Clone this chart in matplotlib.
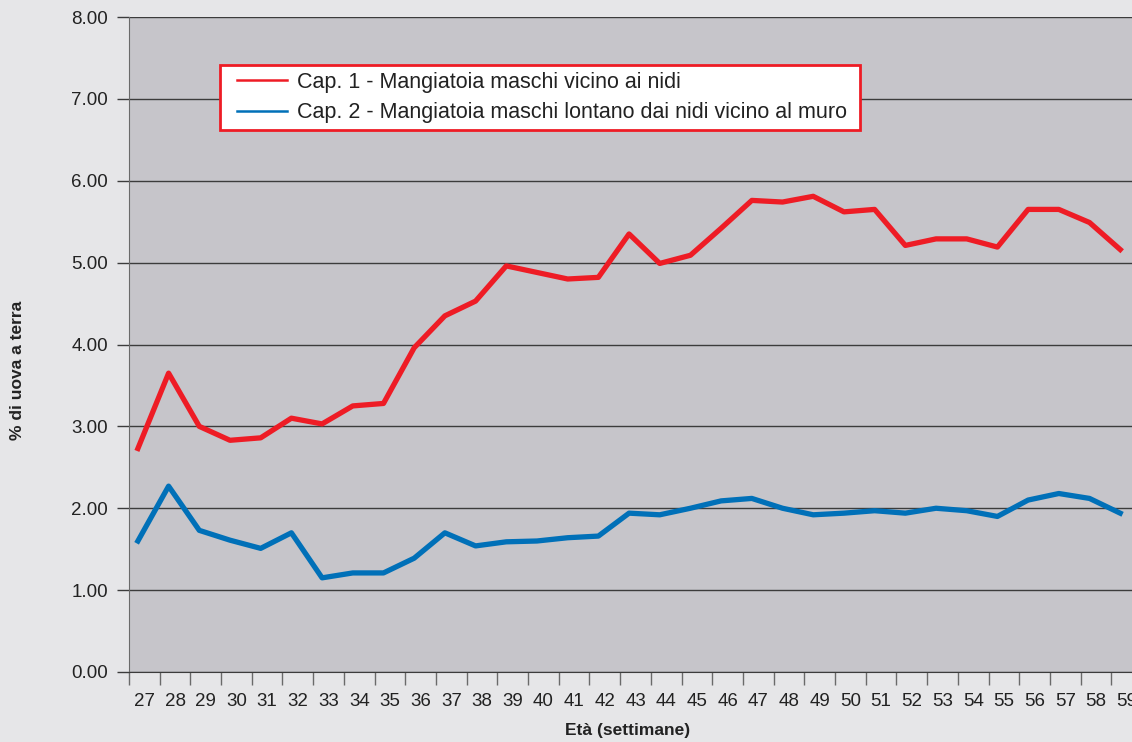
import numpy as np
import matplotlib
matplotlib.use('Agg')
import matplotlib.pyplot as plt
from matplotlib.lines import Line2D
from matplotlib.patches import Rectangle
from matplotlib.ticker import FixedLocator, FormatStrFormatter

plt.rcParams['font.family'] = ['Liberation Sans', 'DejaVu Sans']

# weeks of age
weeks = list(range(27, 60))

# % floor eggs
cap1 = [2.73, 3.65, 3.00, 2.83, 2.86, 3.10, 3.03, 3.25, 3.28, 3.96,
        4.35, 4.53, 4.96, 4.88, 4.80, 4.82, 5.35, 4.99, 5.09, 5.42,
        5.76, 5.74, 5.81, 5.62, 5.65, 5.21, 5.29, 5.29, 5.19, 5.65,
        5.65, 5.49, 5.16]
cap2 = [1.60, 2.27, 1.73, 1.61, 1.51, 1.70, 1.15, 1.21, 1.21, 1.39,
        1.70, 1.54, 1.59, 1.60, 1.64, 1.66, 1.94, 1.92, 2.00, 2.09,
        2.12, 2.00, 1.92, 1.94, 1.97, 1.94, 2.00, 1.97, 1.90, 2.10,
        2.18, 2.12, 1.94]

labels = ['Cap. 1 - Mangiatoia maschi vicino ai nidi',
          'Cap. 2 - Mangiatoia maschi lontano dai nidi vicino al muro']

red = '#ee1c25'
blue = '#0070b8'

W, H = 1132, 742
fig = plt.figure(figsize=(W / 100, H / 100), dpi=100)
fig.patch.set_facecolor('#e6e6e8')

# plot area runs past the right edge of the image, like the original
ax = fig.add_axes([129 / W, (H - 672) / H, 1013 / W, 655 / H])
ax.set_facecolor('#c6c5ca')

x = np.arange(len(weeks))
ax.plot(x, cap1, color=red, lw=3.8, solid_joinstyle='round', zorder=3)
ax.plot(x, cap2, color=blue, lw=3.8, solid_joinstyle='round', zorder=3)

ax.set_xlim(-0.29, len(weeks) - 0.29)
ax.set_ylim(0, 8)

# y axis
ax.set_yticks(np.arange(0, 9, 1))
ax.yaxis.set_major_formatter(FormatStrFormatter('%.2f'))
ax.yaxis.grid(True, color='#3c3c3c', lw=1.0)
ax.set_axisbelow(True)
ax.tick_params(axis='y', length=9, width=1.0, color='#3c3c3c', pad=6,
               labelsize=13.5, labelcolor='#222222')

# x axis: tick marks between categories, labels in the middle
ax.xaxis.set_major_locator(FixedLocator(np.arange(len(weeks) + 1) - 0.29))
ax.xaxis.set_minor_locator(FixedLocator(np.arange(len(weeks)) + 0.21))
ax.set_xticklabels([])
ax.set_xticklabels([str(w) for w in weeks], minor=True)
ax.tick_params(axis='x', which='major', length=9, width=1.0, color='#6a6a6a')
ax.tick_params(axis='x', which='minor', length=0, pad=15, labelsize=13.5,
               labelcolor='#222222')

for s in ['top', 'right']:
    ax.spines[s].set_visible(False)
ax.spines['left'].set_color('#6a6a6a')
ax.spines['bottom'].set_color('#3c3c3c')

fig.text(18 / W, 1 - 370 / H, '% di uova a terra', rotation=90, ha='center',
         va='center', fontsize=12.5, fontweight='bold', color='#222222')
fig.text(628 / W, 1 - 730 / H, 'Età (settimane)', ha='center', va='center',
         fontsize=12.5, fontweight='bold', color='#222222')

# legend box drawn separately so its padding matches the original
box = Rectangle((220 / W, 1 - 130 / H), 640 / W, 65 / H, transform=fig.transFigure,
                facecolor='white', edgecolor=red, lw=2, zorder=4)
fig.patches.append(box)

handles = [Line2D([], [], color=red, lw=1.8), Line2D([], [], color=blue, lw=1.8)]
leg = fig.legend(handles, labels, loc='upper left',
                 bbox_to_anchor=(237 / W, 1 - 72 / H),
                 fontsize=15.5, frameon=False,
                 handlelength=2.33, handletextpad=0.47, borderpad=0,
                 labelspacing=0.42, borderaxespad=0)
leg.set_zorder(5)
for t in leg.get_texts():
    t.set_color('#222222')

fig.savefig('out.png', dpi=100, facecolor=fig.get_facecolor())
